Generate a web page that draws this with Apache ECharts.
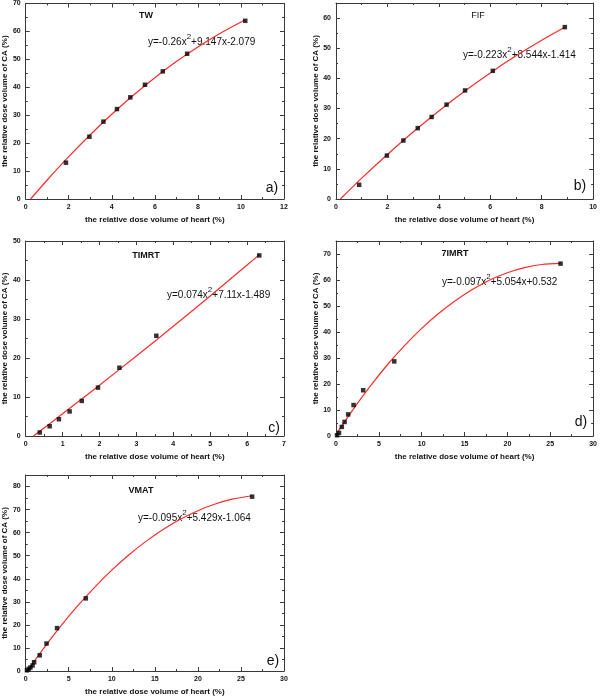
<!DOCTYPE html>
<html>
<head>
<meta charset="utf-8">
<script src="https://cdn.jsdelivr.net/npm/echarts@6/dist/echarts.min.js"></script>
<style>html,body{margin:0;padding:0;background:#fff}#c{width:600px;height:697px}</style>
</head>
<body>
<div id="c"></div>
<script>
// ---- data ----
const panelNames = ['TW', 'FIF', 'TIMRT', '7IMRT', 'VMAT'];
const panelLetters = ['a)', 'b)', 'c)', 'd)', 'e)'];
const eqA = ['y=-0.26x', '+9.147x-2.079'];
const eqB = ['y=-0.223x', '+8.544x-1.414'];
const eqC = ['y=0.074x', '+7.11x-1.489'];
const eqD = ['y=-0.097x', '+5.054x+0.532'];
const eqE = ['y=-0.095x', '+5.429x-1.064'];
const xTitle = 'the relative dose volume of heart (%)';
const yTitle = 'the relative dose volume of CA (%)';

// measured points
const twX = [1.87, 2.96, 3.61, 4.24, 4.86, 5.54, 6.37, 7.50, 10.20];
const twY = [13.0, 22.3, 27.7, 32.2, 36.4, 40.9, 45.7, 52.0, 63.8];
const fifX = [0.90, 1.98, 2.62, 3.18, 3.72, 4.30, 5.02, 6.10, 8.90];
const fifY = [4.7, 14.4, 19.4, 23.5, 27.2, 31.3, 36.0, 42.5, 57.0];
const timrtX = [0.38, 0.65, 0.90, 1.19, 1.52, 1.96, 2.54, 3.54, 6.33];
const timrtY = [0.9, 2.5, 4.3, 6.3, 9.0, 12.4, 17.5, 25.7, 46.3];
const s7imrtX = [0.12, 0.35, 0.68, 1.00, 1.42, 2.05, 3.17, 6.80, 26.2];
const s7imrtY = [0.3, 1.2, 3.5, 5.4, 8.3, 11.9, 17.6, 28.7, 66.3];
const vmatX = [0.15, 0.35, 0.55, 0.80, 0.98, 1.63, 2.42, 3.64, 6.98, 26.3];
const vmatY = [0.3, 0.9, 1.5, 2.4, 3.8, 6.8, 11.9, 18.6, 31.5, 75.6];

// fitted curves
const twFitX = [0.23, 1, 2, 3, 4, 5, 6, 7, 8, 9, 10.2];
const twFitY = [0, 6.81, 15.17, 23.02, 30.35, 37.16, 43.44, 49.21, 54.46, 59.18, 64.2];
const fifFitX = [0.17, 1, 2, 3, 4, 5, 6, 7, 8, 8.9];
const fifFitY = [0, 6.91, 14.78, 22.21, 29.19, 35.73, 41.82, 47.47, 52.67, 56.97];
const timrtFitX = [0.21, 1, 2, 3, 4, 5, 6, 6.33];
const timrtFitY = [0, 5.70, 13.03, 20.51, 28.12, 35.91, 43.84, 46.47];
const s7imrtFitX = [0, 2, 4, 6, 8, 10, 12, 14, 16, 18, 20, 22, 24, 26.2];
const s7imrtFitY = [0.53, 10.25, 19.2, 27.4, 34.76, 41.37, 47.2, 52.2, 56.5, 60.1, 62.81, 64.77, 65.96, 66.36];
const vmatFitX = [0.2, 1, 2, 4, 6, 8, 10, 12, 14, 16, 18, 20, 22, 24, 26.3];
const vmatFitY = [0, 4.27, 9.41, 19.13, 28.09, 36.29, 43.73, 50.41, 56.32, 61.48, 65.88, 69.52, 72.4, 74.52, 76.01];

// axes
const xMax = [12, 10, 7, 30, 30];
const xStep = [2, 2, 1, 5, 5];
const yMax = [70, 65, 50, 75, 85];
const yStep = [10, 10, 10, 10, 10];

// ---- layout ----
const grids = [
  {left: 23, top: 3, width: 261, height: 196},
  {left: 336, top: 3, width: 259, height: 196},
  {left: 23, top: 241, width: 261, height: 195},
  {left: 336, top: 241, width: 258, height: 195},
  {left: 23, top: 475, width: 261, height: 196}
];
const pts = [[twX, twY], [fifX, fifY], [timrtX, timrtY], [s7imrtX, s7imrtY], [vmatX, vmatY]];
const fits = [[twFitX, twFitY], [fifFitX, fifFitY], [timrtFitX, timrtFitY], [s7imrtFitX, s7imrtFitY], [vmatFitX, vmatFitY]];
const eqs = [eqA, eqB, eqC, eqD, eqE];
const eqPos = [[148, 33], [463, 46], [167, 286], [442, 273], [138, 509]];
const titlePos = [[146, 16], [478, 16], [146, 256], [455, 254], [141, 491]];
const titleBold = [true, false, true, true, true];
const letterPos = [[272, 188], [580, 186], [274, 428], [581, 422], [273, 661]];

const FONT = '"Liberation Sans", Arial, sans-serif';
const AX = '#3a3a3a';
const zip = (a, b) => a.map((v, i) => [v, b[i]]);

const xAxes = [], yAxes = [], series = [], graphic = [];
grids.forEach((g, i) => {
  const common = {
    axisLine: {show: true, onZero: false, lineStyle: {color: AX, width: 1}},
    axisTick: {show: true, inside: true, length: 4, lineStyle: {color: AX}},
    minorTick: {show: true, splitNumber: 2, length: 2, lineStyle: {color: AX}},
    splitLine: {show: false}
  };
  xAxes.push(Object.assign({}, common, {
    type: 'value', gridIndex: i, position: 'bottom', min: 0, max: xMax[i], interval: xStep[i],
    axisLabel: {show: true, fontFamily: FONT, fontSize: 7, fontWeight: 'bold', color: '#111', margin: 5},
    name: xTitle, nameLocation: 'middle', nameGap: 17,
    nameTextStyle: {fontFamily: FONT, fontSize: 8, fontWeight: 'bold', color: '#111'}
  }));
  xAxes.push(Object.assign({}, common, {
    type: 'value', gridIndex: i, position: 'top', min: 0, max: xMax[i], interval: xStep[i],
    axisLabel: {show: false}
  }));
  yAxes.push(Object.assign({}, common, {
    type: 'value', gridIndex: i, position: 'left', min: 0, max: yMax[i], interval: yStep[i],
    axisLabel: {show: true, fontFamily: FONT, fontSize: 7, fontWeight: 'bold', color: '#111', margin: 5, showMaxLabel: yMax[i] % yStep[i] === 0},
    name: yTitle, nameLocation: 'middle', nameGap: 13, nameRotate: 90,
    nameTextStyle: {fontFamily: FONT, fontSize: 8, fontWeight: 'bold', color: '#111'}
  }));
  yAxes.push(Object.assign({}, common, {
    type: 'value', gridIndex: i, position: 'right', min: 0, max: yMax[i], interval: yStep[i],
    axisLabel: {show: false}
  }));
  series.push({
    type: 'line', xAxisIndex: 2 * i, yAxisIndex: 2 * i, data: zip(fits[i][0], fits[i][1]),
    showSymbol: false, smooth: 0.3, lineStyle: {color: '#ff2a2a', width: 1.2}, silent: true, z: 2
  });
  series.push({
    type: 'scatter', xAxisIndex: 2 * i, yAxisIndex: 2 * i, data: zip(pts[i][0], pts[i][1]),
    symbol: 'rect', symbolSize: 4.5, itemStyle: {color: '#000'}, z: 3
  });
  graphic.push({
    type: 'text', left: eqPos[i][0], top: eqPos[i][1],
    style: {
      text: '{a|' + eqs[i][0] + '}{s|2}{a|' + eqs[i][1] + '}',
      rich: {
        a: {fontFamily: FONT, fontSize: 10, fill: '#111', verticalAlign: 'bottom', lineHeight: 14},
        s: {fontFamily: FONT, fontSize: 8, fill: '#111', verticalAlign: 'top', lineHeight: 14}
      }
    }
  });
  graphic.push({
    type: 'text', x: titlePos[i][0], y: titlePos[i][1],
    style: {text: panelNames[i], fontFamily: FONT, fontSize: 9, fontWeight: titleBold[i] ? 'bold' : 'normal',
      fill: '#111', align: 'center', verticalAlign: 'middle'}
  });
  graphic.push({
    type: 'text', x: letterPos[i][0], y: letterPos[i][1],
    style: {text: panelLetters[i], fontFamily: FONT, fontSize: 14, fill: '#111', align: 'center', verticalAlign: 'middle'}
  });
});

const chart = echarts.init(document.getElementById('c'), null, {renderer: 'canvas'});
chart.setOption({
  animation: false,
  backgroundColor: '#fff',
  grid: grids.map(g => Object.assign({containLabel: false}, g)),
  xAxis: xAxes,
  yAxis: yAxes,
  series: series,
  graphic: graphic
});
</script>
</body>
</html>
